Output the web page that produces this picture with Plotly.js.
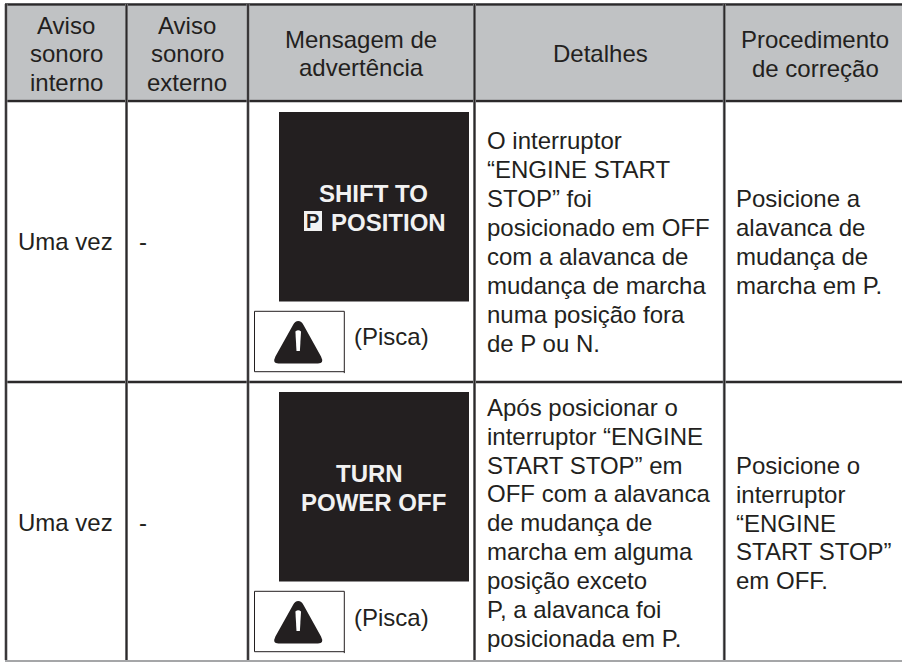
<!DOCTYPE html>
<html><head><meta charset="utf-8">
<script src="https://cdn.plot.ly/plotly-3.0.1.min.js"></script>
<style>html,body{margin:0;padding:0;background:#fff;overflow:hidden}</style>
</head><body><div id="chart" style="width:902px;height:662px"></div>
<script>
// ---- table content ----
const headerCol1 = ["Aviso","sonoro","interno"];
const headerCol2 = ["Aviso","sonoro","externo"];
const headerCol3 = ["Mensagem de","advertência"];
const headerCol4 = ["Detalhes"];
const headerCol5 = ["Procedimento","de correção"];
const alertInternal = ["Uma vez","Uma vez"];
const alertExternal = ["-","-"];
const displayMessages = [["SHIFT TO","POSITION"],["TURN","POWER OFF"]];
const blinkLabel = "(Pisca)";
const detailsRow1 = ["O interruptor","“ENGINE START","STOP” foi","posicionado em OFF","com a alavanca de","mudança de marcha","numa posição fora","de P ou N."];
const detailsRow2 = ["Após posicionar o","interruptor “ENGINE","START STOP” em","OFF com a alavanca","de mudança de","marcha em alguma","posição exceto","P, a alavanca foi","posicionada em P."];
const fixRow1 = ["Posicione a","alavanca de","mudança de","marcha em P."];
const fixRow2 = ["Posicione o","interruptor","“ENGINE","START STOP”","em OFF."];

// ---- layout geometry ----
const INK = "#231f20", HEAD = "#c0c2c4", EDGE = "#8f9092", PANEL_TEXT = "#f2f2f2";
const FONT = "Liberation Sans, Arial, sans-serif";
const annotations = [], shapes = [];
function rect(x0,y0,x1,y1,fill,line,w){shapes.push({type:"rect",xref:"x",yref:"y",x0,y0,x1,y1,fillcolor:fill,line:{color:line||fill,width:line?w:0},layer:"above"});}
function seg(x0,y0,x1,y1,c,w){shapes.push({type:"line",xref:"x",yref:"y",x0,y0,x1,y1,line:{color:c,width:w},layer:"above"});}
function path(d,fill){shapes.push({type:"path",xref:"x",yref:"y",path:d,fillcolor:fill,line:{width:0},layer:"above"});}
function txt(s,x,y,size,anchor,color,fam,w){annotations.push({xref:"x",yref:"y",x,y,text:s,showarrow:false,xanchor:anchor,yanchor:"middle",align:anchor,borderpad:0,
  font:{family:fam||FONT,size,color:color||INK,weight:w||400}});}
function lines(a,x,y0,dy,size,anchor){a.forEach((s,i)=>txt(s,x,y0+i*dy,size,anchor));}

// header band
rect(6,4,902,101,HEAD);

const vx=[6,126.5,248,474.5,724.3], hy=[4.5,101,382];
hy.forEach(y=>{seg(5,y,902,y,EDGE,3.2);seg(5,y,902,y,"#2b292a",1.8);});
seg(5,661,902,661,"#a5a6a8",2);
vx.forEach(x=>{seg(x,4,x,660,EDGE,3);seg(x,4,x,660,"#2b292a",1.7);});

// header text
lines(headerCol1,66,25,28.6,24,"center");
lines(headerCol2,187,25,28.6,24,"center");
lines(headerCol3,361,39,28.6,24,"center");
lines(headerCol4,600,53,0,24,"center");
lines(headerCol5,815,39,29,24,"center");

// rows
const rowMid=[241.7,522.7];
alertInternal.forEach((s,i)=>txt(s,17,rowMid[i],24,"left"));
alertExternal.forEach((s,i)=>txt(s,137.5,rowMid[i],24,"left"));
lines(detailsRow1,485.5,140.9,28.9,24,"left");
lines(detailsRow2,485.5,407.2,28.9,24,"left");
lines(fixRow1,735,198.7,28.9,24,"left");
lines(fixRow2,735,465.2,28.9,24,"left");

// display panels
const panelTop=[112,392], boxTop=[311.3,591.3];
panelTop.forEach((t,i)=>{
  rect(279,t,469,t+189.5,INK);
  const m=displayMessages[i];
  txt(m[0], i?369.5:373, t+(i?81.5:81), 24, "center",PANEL_TEXT,FONT,700);
  txt(m[1], i?373:388.3, t+(i?110.5:110), 24, "center",PANEL_TEXT,FONT,700);
});
// parking glyph
rect(304,211,322,231,PANEL_TEXT);
txt("P",312.8,221,20,"center",INK,FONT,700);

// warning symbols
boxTop.forEach((t,i)=>{
  rect(254.5,t,344.3,t+60.4,"#ffffff",INK,1);
  seg(344.3,t+60,344.3,t+61.8,INK,1);
  const o=t-591.3;
  const Y=v=>(v+o).toFixed(1);
  path(`M298.2,${Y(601)} Q301.5,${Y(601)} 303.5,${Y(605)} L321,${Y(636.5)} Q324.5,${Y(643.5)} 318,${Y(643.5)} L278.4,${Y(643.5)} Q272,${Y(643.5)} 275.4,${Y(636.5)} L293,${Y(605)} Q295,${Y(601)} 298.2,${Y(601)} Z`,INK);
  path(`M295.4,${Y(611.5)} Q298.2,${Y(609.2)} 301,${Y(611.5)} L299.9,${Y(631)} L296.5,${Y(631)} Z`,"#ffffff");
  path(`M298.2,${Y(633.3)} A3.3,3.3 0 1 1 298.2,${Y(639.9)} A3.3,3.3 0 1 1 298.2,${Y(633.3)} Z`,"#ffffff");
  txt(blinkLabel,353,i?617:336,24,"left");
});

Plotly.newPlot("chart",[],{
  width:902,height:662,margin:{l:0,r:0,t:0,b:0},paper_bgcolor:"#fff",plot_bgcolor:"#fff",
  xaxis:{range:[0,902],visible:false,fixedrange:true},
  yaxis:{range:[662,0],visible:false,fixedrange:true},
  showlegend:false,shapes,annotations
},{staticPlot:true,displayModeBar:false});
</script></body></html>
